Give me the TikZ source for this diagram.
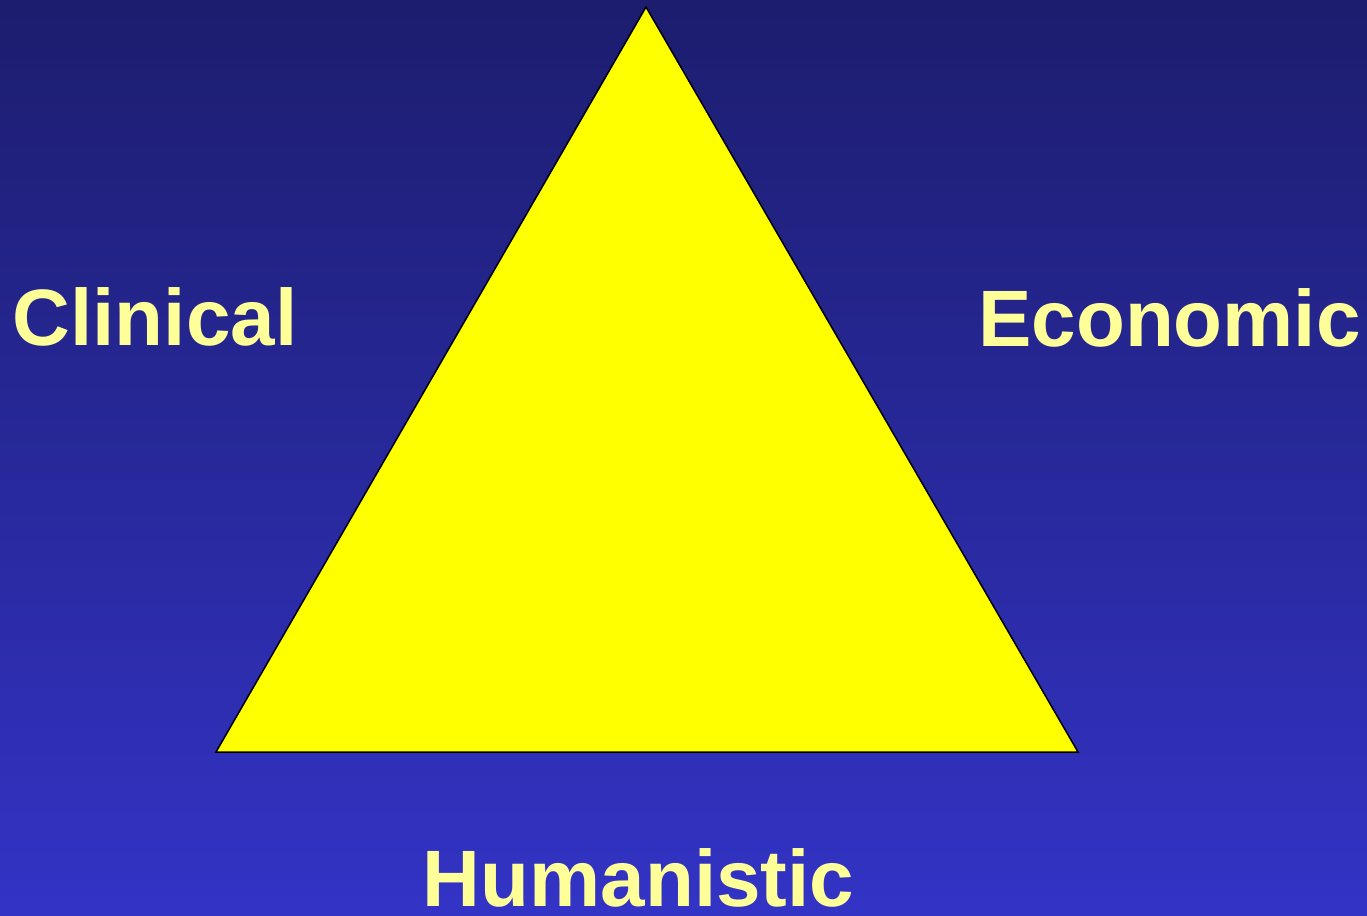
\documentclass[tikz,border=0pt]{standalone}
\usepackage{fontspec}
\setmainfont{Liberation Sans}
\definecolor{bgtop}{RGB}{28,29,110}
\definecolor{bgbot}{RGB}{51,51,198}
\definecolor{labelyellow}{RGB}{255,255,153}
\definecolor{triyellow}{RGB}{255,255,0}
\begin{document}
\begin{tikzpicture}[x=1pt,y=-1pt,
  lbl/.style={text=labelyellow,font=\fontsize{80}{90}\selectfont\bfseries,inner sep=0pt,anchor=base},
  tri/.style={fill=triyellow,draw=black,line width=1.5pt,line join=miter}]
  \shade[top color=bgtop,bottom color=bgbot] (0,0) rectangle (1367,915);
  \useasboundingbox (0,0) rectangle (1367,915);
  \coordinate (apex) at (646,7);
  \coordinate (bl) at (216,752);
  \coordinate (br) at (1078,752);
  \draw[tri] (apex) -- (bl) -- (br) -- cycle;
  \node[lbl] (clinical) at (155,345) {Clinical};
  \node[lbl] (economic) at (1169.5,346) {Economic};
  \node[lbl] (humanistic) at (638.5,906) {Humanistic};
\end{tikzpicture}
\end{document}
